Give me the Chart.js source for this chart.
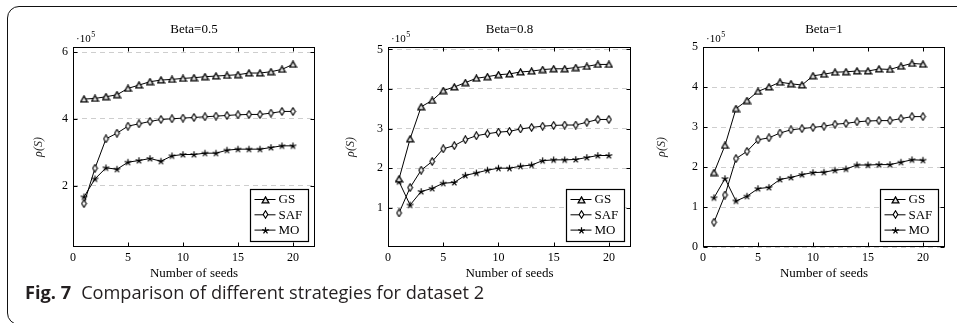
<!DOCTYPE html>
<html><head><meta charset="utf-8">
<script src="https://cdn.jsdelivr.net/npm/chart.js@4.4.0/dist/chart.umd.min.js"></script>
<style>
html,body{margin:0;padding:0;width:957px;height:323px;overflow:hidden;background:#fff;}
#frame{position:absolute;left:7px;top:6px;width:1200px;height:319px;border:1.8px solid #111;border-radius:12px;box-sizing:border-box;}
.cw{position:absolute;top:0;height:290px;}
#caption{position:absolute;left:25px;top:280px;font-family:"Open Sans";font-size:18.2px;color:#231f20;white-space:nowrap;}
#caption b{font-weight:700;margin-right:10px;}
</style></head><body>
<div id="frame"></div>
<div class="cw" style="left:10px;width:313px"><canvas id="c1"></canvas></div>
<div class="cw" style="left:330px;width:309px"><canvas id="c2"></canvas></div>
<div class="cw" style="left:645px;width:308px"><canvas id="c3"></canvas></div>
<div id="caption"><b>Fig. 7</b>Comparison of different strategies for dataset 2</div>
<script>
// ---- data (values in units of 10^5) ----
const seeds = [1,2,3,4,5,6,7,8,9,10,11,12,13,14,15,16,17,18,19,20];
const xTicks = [0,5,10,15,20];
const seriesNames = ['GS','SAF','MO'];
const chartTitles = ['Beta=0.5','Beta=0.8','Beta=1'];

const gsB05  = [4.59,4.61,4.66,4.72,4.91,5.01,5.11,5.16,5.18,5.21,5.23,5.26,5.28,5.30,5.32,5.37,5.37,5.41,5.48,5.63];
const safB05 = [1.46,2.52,3.40,3.57,3.78,3.85,3.92,3.98,4.00,4.02,4.04,4.06,4.08,4.10,4.12,4.13,4.13,4.17,4.22,4.22];
const moB05  = [1.66,2.20,2.53,2.49,2.70,2.75,2.81,2.73,2.89,2.93,2.93,2.97,2.97,3.06,3.09,3.09,3.09,3.14,3.19,3.19];

const gsB08  = [1.73,2.74,3.55,3.71,3.96,4.05,4.16,4.27,4.31,4.36,4.38,4.43,4.45,4.49,4.51,4.51,4.54,4.57,4.62,4.62];
const safB08 = [0.87,1.51,1.95,2.17,2.49,2.57,2.72,2.82,2.87,2.91,2.93,2.99,3.03,3.06,3.08,3.09,3.09,3.16,3.23,3.23];
const moB08  = [1.66,1.07,1.41,1.49,1.62,1.64,1.82,1.88,1.95,2.00,2.00,2.05,2.08,2.19,2.21,2.21,2.22,2.27,2.32,2.32];

const gsB1   = [1.86,2.54,3.46,3.66,3.89,4.00,4.12,4.08,4.05,4.28,4.32,4.37,4.38,4.40,4.40,4.45,4.44,4.52,4.59,4.57];
const safB1  = [0.62,1.30,2.21,2.39,2.68,2.73,2.85,2.93,2.96,2.99,3.02,3.07,3.09,3.13,3.15,3.16,3.16,3.21,3.26,3.26];
const moB1   = [1.23,1.71,1.15,1.27,1.46,1.49,1.69,1.74,1.81,1.86,1.87,1.92,1.95,2.05,2.05,2.06,2.06,2.12,2.18,2.17];

const yTicksB05 = [2,4,6];
const yTicksB08 = [1,2,3,4,5];
const yTicksB1  = [0,1,2,3,4,5];

// ---- marker images ----
function mk(w,h,draw){const c=document.createElement('canvas');c.width=w;c.height=h;const g=c.getContext('2d');draw(g);return c;}
const triImg = mk(9,8,g=>{g.beginPath();g.moveTo(4.5,0.9);g.lineTo(7.9,6.9);g.lineTo(1.1,6.9);g.closePath();g.fillStyle='#e6e6e6';g.fill();g.strokeStyle='#000';g.lineWidth=1.25;g.stroke();});
const diaImg = mk(7,9,g=>{g.beginPath();g.moveTo(3.5,0.8);g.lineTo(5.8,4.5);g.lineTo(3.5,8.2);g.lineTo(1.2,4.5);g.closePath();g.fillStyle='#fff';g.fill();g.strokeStyle='#000';g.lineWidth=1.15;g.stroke();});
const starImg = mk(9,9,g=>{g.strokeStyle='#000';g.lineWidth=1.2;g.beginPath();for(let k=0;k<5;k++){const a=-Math.PI/2+k*2*Math.PI/5;g.moveTo(4.5,4.7);g.lineTo(4.5+3.4*Math.cos(a),4.7+3.4*Math.sin(a));}g.stroke();});
const markers = [triImg, diaImg, starImg];

const SERIF = '"Liberation Serif", serif';

const framePlugin = {
  id:'frame',
  afterDraw(chart, args, opts){
    const {ctx, chartArea:a, scales} = chart;
    ctx.save();
    ctx.setLineDash([]);
    ctx.strokeStyle='#000'; ctx.lineWidth=1;
    const L=Math.round(a.left)+0.5, R=Math.round(a.right)-0.5, T=Math.round(a.top)+0.5, B=Math.round(a.bottom)-0.5;
    ctx.strokeRect(L,T,R-L,B-T);
    ctx.beginPath();
    xTicks.forEach(v=>{const p=Math.round(scales.x.getPixelForValue(v))+0.5; ctx.moveTo(p,T);ctx.lineTo(p,T+4);ctx.moveTo(p,B);ctx.lineTo(p,B-4);});
    opts.yTicks.forEach(v=>{const p=Math.round(scales.y.getPixelForValue(v))+0.5; ctx.moveTo(L,p);ctx.lineTo(L+4,p);ctx.moveTo(R,p);ctx.lineTo(R-4,p);});
    ctx.stroke();
    // exponent label
    ctx.fillStyle='#000';
    ctx.textBaseline='alphabetic'; ctx.textAlign='left';
    ctx.font='11px '+SERIF;
    const ex=a.left+3, ey=a.top-5;
    ctx.fillText('\u00b710', ex, ey);
    const w=ctx.measureText('\u00b710').width;
    ctx.font='8px '+SERIF;
    ctx.fillText('5', ex+w+0.5, ey-5);
    // legend box
    const bw=58, bh=52;
    const bx=Math.round(a.right-7-bw)+0.5, by=Math.round(a.bottom-6-bh)+0.5;
    ctx.fillStyle='#fff'; ctx.fillRect(bx,by,bw,bh);
    ctx.strokeStyle='#000'; ctx.lineWidth=1.2; ctx.strokeRect(bx,by,bw,bh);
    chart.data.datasets.forEach((ds,i)=>{
      const cy = by + 10 + i*15.3;
      ctx.beginPath(); ctx.lineWidth=1; ctx.moveTo(bx+4,cy); ctx.lineTo(bx+25,cy); ctx.stroke();
      const m=markers[i]; ctx.drawImage(m, Math.round(bx+14.5-m.width/2), Math.round(cy-m.height/2));
      ctx.fillStyle='#000'; ctx.font='13px '+SERIF; ctx.textBaseline='middle'; ctx.textAlign='left';
      ctx.fillText(ds.label, bx+28, cy+0.5);
    });
    ctx.restore();
  }
};

function makeChart(id, title, series, yMin, yMax, yTicks, yW, yTitlePad){
  const pts = arr => seeds.map((s,i)=>({x:s, y:arr[i]}));
  return new Chart(document.getElementById(id), {
    type:'line',
    data:{ datasets: series.map((arr,i)=>({
      label: seriesNames[i], data: pts(arr),
      borderColor:'#000', borderWidth:1, tension:0,
      pointStyle: markers[i], pointRadius:3, pointHoverRadius:3,
      backgroundColor:'#fff', pointBorderColor:'#000'
    }))},
    options:{
      animation:false, responsive:true, maintainAspectRatio:false,
      events:[],
      layout:{padding:{left:0,right:8,top:0,bottom:0}},
      plugins:{legend:{display:false}, tooltip:{enabled:false}, title:{display:false}, frame:{yTicks}},
      scales:{
        x:{type:'linear', position:'bottom', min:0, max:22,
           afterBuildTicks: s=>{ s.ticks = xTicks.map(v=>({value:v})); },
           afterFit: s=>{ s.height = 43; },
           grid:{display:false, drawTicks:false}, border:{display:false},
           ticks:{padding:4, color:'#000', font:{family:SERIF, size:12}, maxRotation:0, autoSkip:false},
           title:{display:true, text:'Number of seeds', color:'#000', font:{family:SERIF, size:13}, padding:{top:0,bottom:9}}},
        xTop:{type:'linear', axis:'x', position:'top', min:0, max:22,
           afterFit: s=>{ s.height = 47; },
           grid:{display:false, drawTicks:false}, border:{display:false},
           ticks:{display:false},
           title:{display:true, text:title, color:'#000', font:{family:SERIF, size:13}, padding:{top:22, bottom:0}}},
        y:{type:'linear', position:'left', min:yMin, max:yMax,
           afterBuildTicks: s=>{ s.ticks = yTicks.map(v=>({value:v})); },
           afterFit: s=>{ s.width = yW; },
           grid:{color:'#c2c2c2', lineWidth:0.8, drawTicks:false},
           border:{display:false, dash:[5,4]},
           ticks:{padding:5, color:'#000', font:{family:SERIF, size:12}, autoSkip:false},
           title:{display:true, text:'\u03c1(S)', color:'#222', font:{family:SERIF, size:12, style:'italic'}, padding:{top:yTitlePad, bottom:0}}}
      }
    },
    plugins:[framePlugin]
  });
}

makeChart('c1', chartTitles[0], [gsB05, safB05, moB05], 0.16, 6.15, yTicksB05, 63, 22);
makeChart('c2', chartTitles[1], [gsB08, safB08, moB08], 0.01, 5.06, yTicksB08, 58, 14);
makeChart('c3', chartTitles[2], [gsB1,  safB1,  moB1 ], 0, 5, yTicksB1, 58, 10);
</script>
</body></html>
